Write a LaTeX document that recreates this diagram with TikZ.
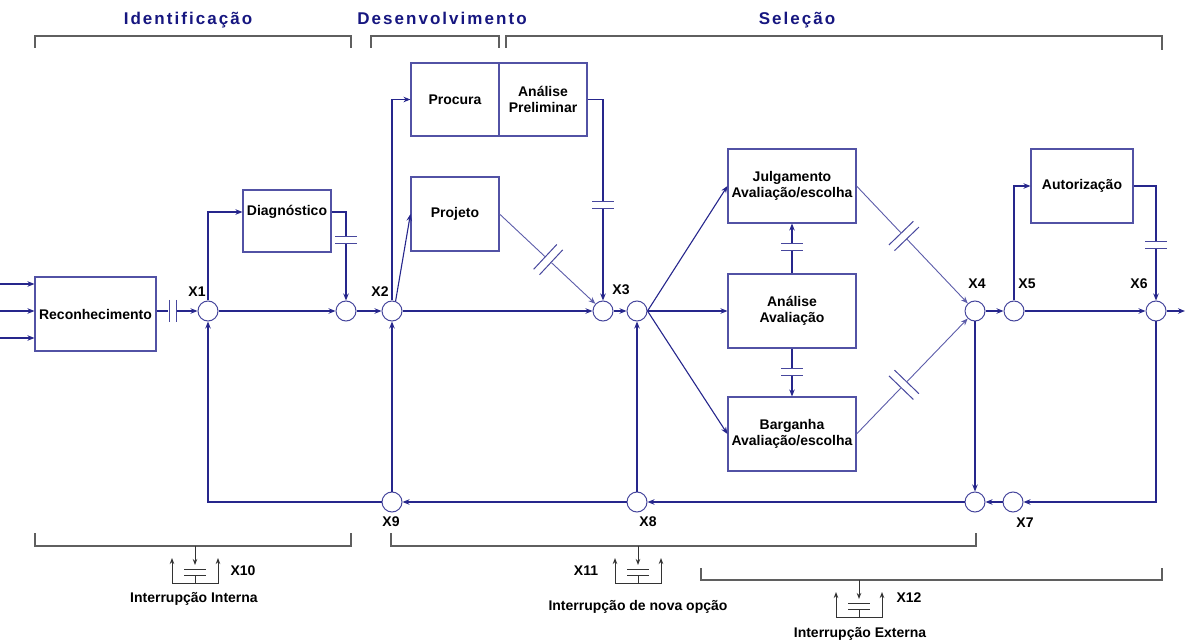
\documentclass[tikz,border=0pt]{standalone}
\usepackage{fontspec}
\setmainfont{Liberation Sans}
\newfontfamily\titlefont[LetterSpace=12]{Liberation Sans}
\usetikzlibrary{arrows.meta,calc}

\definecolor{linec}{RGB}{38,38,140}
\definecolor{boxc}{RGB}{82,82,165}
\definecolor{titlec}{RGB}{22,22,128}
\definecolor{bracec}{RGB}{95,95,95}

% two parallel bars interrupting a connector: point, angle, bar length, gap
\newcommand\gapmark[4]{%
  \begin{scope}[shift={#1}, rotate=#2]
    \fill[white] (-#4/2-0.6,-3) rectangle (#4/2+0.6,3);
    \draw[gapbar] (-#4/2,-#3/2) -- (-#4/2,#3/2) (#4/2,-#3/2) -- (#4/2,#3/2);
  \end{scope}}

% interruption symbol hanging below a bracket
\newcommand\interrupt[1]{%
  \begin{scope}[shift={#1}]
    \draw[sym, -{Stealth[length=6pt,width=4.5pt]}] (0,0) -- (0,19);
    \draw[sym] (-11,23) -- (11,23) (-11,29) -- (11,29) (0,29) -- (0,37);
    \draw[sym, {Stealth[length=6pt,width=4.5pt]}-{Stealth[length=6pt,width=4.5pt]}]
      (-23,12) -- (-23,37) -- (23,37) -- (23,12);
  \end{scope}}

\tikzset{
  box/.style={draw=boxc, line width=1.1pt, inner sep=0pt, align=center,
    font=\fontsize{14}{16}\selectfont\bfseries},
  jn/.style={circle, draw=linec!85, line width=1pt, minimum size=20pt, inner sep=0pt},
  conn/.style={draw=linec, line width=1.1pt, -{Stealth[length=7pt,width=5.5pt]}},
  faint/.style={draw=linec!75, line width=0.9pt, -{Stealth[length=7pt,width=5.5pt]}},
  gapbar/.style={draw=linec!85, line width=1pt},
  sym/.style={draw=black!80, line width=1pt},
  brace/.style={draw=bracec, line width=1.4pt},
  lbl/.style={font=\fontsize{14}{16}\selectfont\bfseries, inner sep=0pt},
  phase/.style={font=\titlefont\fontsize{17}{20}\selectfont\bfseries, text=titlec, anchor=base},
}

\begin{document}
\begin{tikzpicture}[x=1pt,y=-1pt]
\useasboundingbox (0,0) rectangle (1186,644);

% phase titles and brackets
\node[phase] (tid) at (188,25) {Identificação};
\node[phase] (tdes) at (442,25) {Desenvolvimento};
\node[phase] (tsel) at (797,25) {Seleção};
\draw[brace] (35,48) -- (35,36) -- (351,36) -- (351,48);
\draw[brace] (371,48) -- (371,36) -- (499,36) -- (499,48);
\draw[brace] (506,48) -- (506,36) -- (1162,36) -- (1162,50);

% boxes
\node[box, minimum width=121, minimum height=74] (rec) at (95.5,314) {Reconhecimento};
\node[box, minimum width=88, minimum height=62] (diag) at (287,221) {};
\node[lbl] (diagtxt) at (287,212) {Diagnóstico};
\node[box, minimum width=88, minimum height=73] (proc) at (455,99.5) {Procura};
\node[box, minimum width=88, minimum height=73] (prel) at (543,99.5) {Análise\\Preliminar};
\node[box, minimum width=88, minimum height=74] (proj) at (455,214) {Projeto};
\node[box, minimum width=128, minimum height=74] (julg) at (792,186) {Julgamento\\Avaliação/escolha};
\node[box, minimum width=128, minimum height=74] (anal) at (792,311) {Análise\\Avaliação};
\node[box, minimum width=128, minimum height=74] (barg) at (792,434) {Barganha\\Avaliação/escolha};
\node[box, minimum width=102, minimum height=74] (aut) at (1082,186) {Autorização};

% junctions
\node[jn] (X1) at (208,311) {};
\node[jn] (c2) at (346,311) {};
\node[jn] (X2) at (392,311) {};
\node[jn] (c3) at (603,311) {};
\node[jn] (X3) at (637,311) {};
\node[jn] (X4) at (975,311) {};
\node[jn] (X5) at (1014,311) {};
\node[jn] (X6) at (1156,311) {};
\node[jn] (X7) at (1013,502) {};
\node[jn] (c4) at (975,502) {};
\node[jn] (X8) at (637,502) {};
\node[jn] (X9) at (392,502) {};

% junction labels
\node[lbl] (l1) at (197,292) {X1};
\node[lbl] (l2) at (380,292) {X2};
\node[lbl] (l3) at (621,290) {X3};
\node[lbl] (l4) at (977,284) {X4};
\node[lbl] (l5) at (1027,284) {X5};
\node[lbl] (l6) at (1139,284) {X6};
\node[lbl] (l7) at (1025,523) {X7};
\node[lbl] (l8) at (648,522) {X8};
\node[lbl] (l9) at (391,522) {X9};

% inputs to recognition
\coordinate (in1) at (0,284);
\coordinate (in2) at (0,311);
\coordinate (in3) at (0,338);
\coordinate (out) at (1185,311);
\draw[conn] (in1) -- (rec.west |- in1);
\draw[conn] (in2) -- (rec.west |- in2);
\draw[conn] (in3) -- (rec.west |- in3);

% identification
\draw[conn] (rec.east |- X1) -- (X1);
\gapmark{(172.5,311)}{0}{22}{7}
\draw[conn] (X1) |- (diag.west |- diagtxt);
\draw[conn] (diag.east |- diagtxt) -| (c2);
\gapmark{(346,240)}{90}{22}{7}
\draw[conn] (X1) -- (c2);
\draw[conn] (c2) -- (X2);

% development
\draw[conn] (X2) |- (proc.west);
\draw[conn] (X2.70) -- (proj.west);
\draw[conn] (X2) -- (c3);
\draw[conn] (prel.east) -| (c3);
\gapmark{(603,205)}{90}{22}{7}
\draw[faint] (proj.east) -- (c3);
\gapmark{($(proj.east)!0.47!(c3)$)}{-43}{34}{8}
\draw[conn] (c3) -- (X3);

% selection
\draw[conn] (X3.east) -- (julg.west);
\draw[conn] (X3.east) -- (anal.west);
\draw[conn] (X3.east) -- (barg.west);
\draw[conn] (anal.north) -- (julg.south);
\gapmark{(792,247)}{90}{22}{7}
\draw[conn] (anal.south) -- (barg.north);
\gapmark{(792,372)}{90}{22}{7}
\draw[faint] (julg.east) -- (X4);
\gapmark{($(julg.east)!0.4!(X4)$)}{-46}{34}{8}
\draw[faint] (barg.east) -- (X4);
\gapmark{($(barg.east)!0.4!(X4)$)}{46}{34}{8}
\draw[conn] (X4) -- (X5);
\draw[conn] (X5) |- (aut.west);
\draw[conn] (aut.east) -| (X6);
\gapmark{(1156,245)}{90}{22}{7}
\draw[conn] (X5) -- (X6);
\draw[conn] (X6) -- (out);

% recycling loops
\draw[conn] (X6) |- (X7);
\draw[conn] (X7) -- (c4);
\draw[conn] (X4) -- (c4);
\draw[conn] (c4) -- (X8);
\draw[conn] (X8) -- (X3);
\draw[conn] (X8) -- (X9);
\draw[conn] (X9) -- (X2);
\draw[conn] (X9) -| (X1);

% interruptions
\draw[brace] (35,533) -- (35,546) -- (351,546) -- (351,533);
\draw[brace] (391,533) -- (391,546) -- (976,546) -- (976,533);
\draw[brace] (701,568) -- (701,580) -- (1162,580) -- (1162,568);
\interrupt{(195,546)}
\interrupt{(638,546)}
\interrupt{(859,580)}
\node[lbl] (l10) at (243,571) {X10};
\node[lbl] (l11) at (586,571) {X11};
\node[lbl] (l12) at (909,598) {X12};
\node[lbl] (i10) at (194,599) {Interrupção Interna};
\node[lbl] (i11) at (638,607) {Interrupção de nova opção};
\node[lbl] (i12) at (860,634) {Interrupção Externa};
\end{tikzpicture}
\end{document}
